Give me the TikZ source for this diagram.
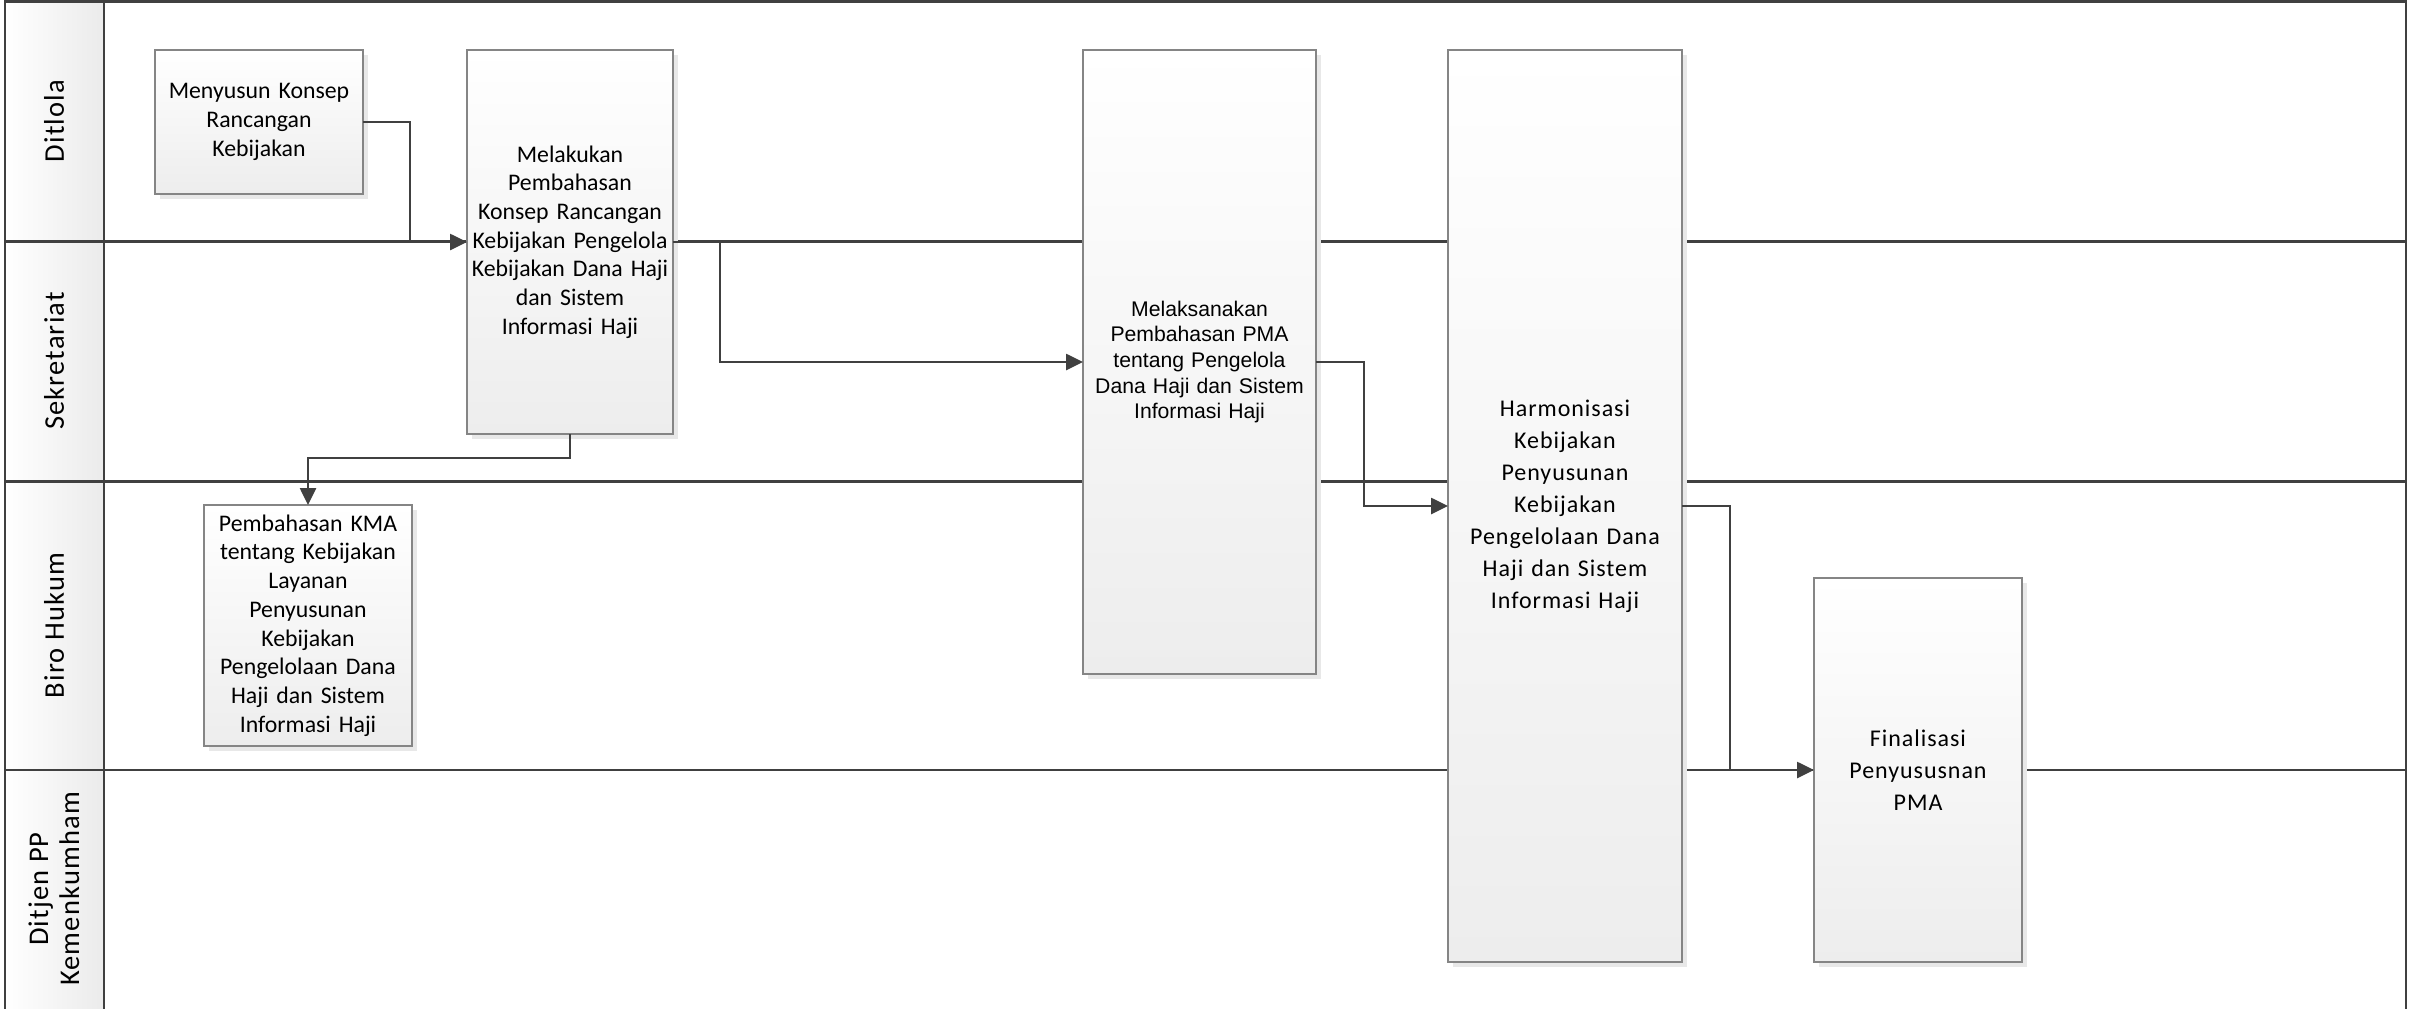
\documentclass[tikz,border=0pt]{standalone}
\usepackage{fontspec}
\setmainfont{Carlito}
\newfontfamily\arialf{Liberation Sans}
\newfontfamily\calsp{Carlito}[LetterSpace=4]
\usetikzlibrary{arrows.meta,shadows}
\definecolor{lineC}{HTML}{404040}
\definecolor{boxC}{HTML}{858585}
\definecolor{shadeC}{HTML}{EBEBEB}
\definecolor{boxBot}{HTML}{EDEDED}
\tikzset{
  procbox/.style={draw=boxC, line width=1.4pt, top color=white, bottom color=boxBot,
    inner sep=0pt, outer sep=0pt, align=center,
    drop shadow={shadow xshift=5pt, shadow yshift=-5pt, fill=black!9, opacity=1}},
  calfont/.style={font=\fontsize{23.8}{28.7}\selectfont},
  arfont/.style={font=\arialf\fontsize{21.2}{25.6}\selectfont},
  spfont/.style={font=\calsp\fontsize{24}{32}\selectfont},
  lanelabel/.style={rotate=90, align=center, inner sep=0pt, font=\calsp\fontsize{28.5}{31}\selectfont},
  lane/.style={draw=lineC, line width=2.4pt},
  conn/.style={draw=lineC, line width=2.6pt, -{Triangle[length=17pt,width=16pt]}}
}
\begin{document}
\begin{tikzpicture}[x=1pt,y=-1pt]
\useasboundingbox (0,0) rectangle (2409,1009);
% label column
\shade[left color=white, right color=shadeC] (5,1.5) rectangle (104,1009);
% lane lines
\draw[lane] (5,241.5) -- (2406,241.5);
\draw[lane] (5,481.5) -- (2406,481.5);
\draw[lane] (5,770) -- (2406,770);
% frame
\draw[lane] (5,1009) -- (5,1.5) -- (2406,1.5) -- (2406,1009);
\draw[lane] (104,1.5) -- (104,1009);
% lane labels
\node[lanelabel] (l1) at (54,121) {Ditlola};
\node[lanelabel] (l2) at (54,361) {Sekretariat};
\node[lanelabel] (l3) at (54,625.5) {Biro Hukum};
\node[lanelabel] (l4) at (54,889) {Ditjen PP\\Kemenkumham};
% boxes
\node[procbox, calfont, minimum width=208pt, minimum height=144pt, text width=194pt] (b1) at (259,122)
  {Menyusun Konsep\\Rancangan\\Kebijakan};
\node[procbox, calfont, minimum width=206pt, minimum height=384pt, text width=200pt] (b2) at (570,242)
  {Melakukan\\Pembahasan\\Konsep Rancangan\\Kebijakan Pengelola\\Kebijakan Dana Haji\\dan Sistem\\Informasi Haji};
\node[procbox, arfont, minimum width=233pt, minimum height=624pt, text width=225pt] (b3) at (1199.5,362)
  {Melaksanakan\\Pembahasan PMA\\tentang Pengelola\\Dana Haji dan Sistem\\Informasi Haji};
\node[procbox, spfont, minimum width=234pt, minimum height=912pt, text width=226pt] (b4) at (1565,506)
  {Harmonisasi\\Kebijakan\\Penyusunan\\Kebijakan\\Pengelolaan Dana\\Haji dan Sistem\\Informasi Haji};
\node[procbox, calfont, minimum width=208pt, minimum height=241pt, text width=200pt] (b5) at (308,625.5)
  {Pembahasan KMA\\tentang Kebijakan\\Layanan\\Penyusunan\\Kebijakan\\Pengelolaan Dana\\Haji dan Sistem\\Informasi Haji};
\node[procbox, spfont, minimum width=208pt, minimum height=384pt, text width=200pt] (b6) at (1918,770)
  {Finalisasi\\Penyususnan\\PMA};
% connectors
\draw[conn] (b1.east) -- ++(47,0) |- (b2.west);
\draw[conn] (b2.east) -- ++(47,0) |- (b3.west);
\draw[conn] (b2.south) -- ++(0,24) -| (b5.north);
\draw[conn] (b3.east) -- ++(48,0) |- (b4.west);
\draw[conn] (b4.east) -- ++(48,0) |- (b6.west);
\end{tikzpicture}
\end{document}
